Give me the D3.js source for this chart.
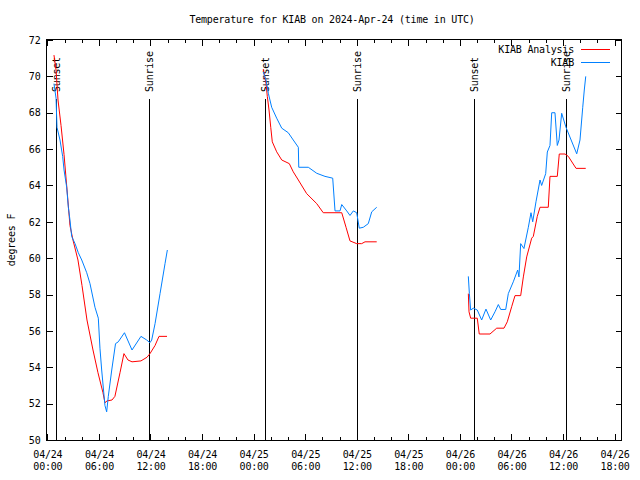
<!DOCTYPE html>
<html>
<head>
<meta charset="utf-8">
<script src="https://cdn.jsdelivr.net/npm/d3@7"></script>
<style>
  html, body { margin: 0; padding: 0; background: #fff; }
  svg { display: block; }
  text { font-family: "DejaVu Sans Mono", "Liberation Mono", monospace; font-size: 10px; letter-spacing: -0.2px; fill: #000; }
</style>
</head>
<body>
<svg id="chart" width="640" height="480"></svg>
<script>
// ---- data (hours after 2024-04-24 00:00 UTC; null = gap) ----
const analysisHours = [
  0.77, 1.01, 1.24, 1.59, 1.94, 2.29, 2.63, 2.98, 3.56, 4.03, 4.61, 5.31, 5.89, 6.47, 6.70, 6.94, 7.52, 7.86, 8.45, 8.91, 9.38, 9.85, 10.89, 11.59, 11.94, 12.53, 12.99, 13.92,
  null,
  25.12, 25.44, 25.59, 25.79, 25.99, 26.17, 26.68, 27.27, 28.15, 28.61, 29.20, 30.17, 31.34, 32.10, 34.25, 34.75, 35.21, 35.99, 36.57, 36.96, 38.32,
  null,
  48.98, 49.06, 49.25, 50.02, 50.25, 51.50, 52.28, 53.13, 53.51, 54.02, 54.41, 55.07, 55.38, 55.77, 56.35, 56.54, 57.00, 57.32, 58.28, 58.48, 59.33, 59.56, 60.23, 60.61, 61.51, 62.64
];
const analysisTemps = [
  71.17, 70.35, 68.7, 67.3, 65.7, 63.75, 61.8, 61.0, 59.9, 58.5, 56.6, 54.95, 53.7, 52.6, 52.05, 52.15, 52.2, 52.4, 53.7, 54.75, 54.4, 54.3, 54.35, 54.55, 54.75, 55.2, 55.7, 55.7,
  null,
  70.4, 69.6, 68.9, 68.15, 67.2, 66.4, 65.85, 65.4, 65.2, 64.75, 64.3, 63.55, 63.0, 62.5, 62.5, 61.7, 60.95, 60.8, 60.8, 60.9, 60.9,
  null,
  58.05, 57.05, 56.7, 56.7, 55.83, 55.83, 56.15, 56.15, 56.5, 57.33, 57.94, 57.94, 58.97, 60.07, 61.1, 61.2, 62.3, 62.8, 62.8, 64.5, 64.5, 65.73, 65.73, 65.6, 64.94, 64.94
];
const obsHours = [
  0.77, 1.01, 1.12, 1.47, 1.78, 1.94, 2.25, 2.44, 2.63, 2.83, 3.22, 3.60, 4.00, 4.58, 4.96, 5.54, 5.93, 6.12, 6.32, 6.70, 6.90, 7.09, 7.49, 7.93, 8.25, 8.97, 9.85, 10.89, 11.56, 11.94, 12.14, 12.53, 13.11, 13.69, 13.96,
  null,
  25.12, 25.44, 25.71, 26.10, 26.68, 27.27, 28.03, 28.61, 29.20, 29.25, 30.36, 31.34, 32.30, 33.20, 33.47, 34.05, 34.25, 34.83, 35.21, 35.60, 35.99, 36.29, 36.76, 37.34, 37.74, 38.32,
  null,
  48.98, 49.10, 49.25, 49.56, 50.02, 50.53, 51.03, 51.58, 52.08, 52.47, 52.75, 53.33, 53.63, 54.21, 54.72, 54.87, 55.07, 55.45, 55.96, 56.27, 56.47, 56.85, 57.32, 57.51, 57.98, 58.17, 58.48, 58.68, 59.06, 59.33, 59.53, 59.84, 60.34, 61.59, 61.97, 62.29, 62.47, 62.64
];
const obsTemps = [
  69.6, 68.8, 67.2, 66.5, 65.6, 64.85, 63.9, 62.8, 62.1, 61.2, 60.8, 60.3, 59.9, 59.2, 58.6, 57.3, 56.7, 55.05, 53.85, 51.9, 51.55, 52.4, 53.85, 55.3, 55.4, 55.9, 54.95, 55.7, 55.5, 55.35, 55.5, 56.4, 58.05, 59.7, 60.45,
  null,
  70.25, 69.8, 69.07, 68.3, 67.7, 67.15, 66.9, 66.5, 66.1, 65.0, 65.0, 64.67, 64.5, 64.4, 62.6, 62.6, 62.95, 62.6, 62.35, 62.6, 62.5, 61.65, 61.7, 61.9, 62.55, 62.8,
  null,
  59.0, 58.05, 57.15, 57.25, 57.15, 56.6, 57.2, 56.6, 57.05, 57.45, 57.18, 57.18, 58.05, 58.7, 59.35, 58.97, 60.8, 60.53, 61.7, 62.5, 62.0, 63.1, 64.3, 64.0, 64.65, 65.84, 66.2, 68.0, 68.0, 66.2, 66.5, 67.97, 67.2, 65.74, 66.5, 68.3, 69.25, 70.0
];
const sunsetHours  = [1.0, 25.36, 49.67];
const sunriseHours = [11.77, 36.06, 60.38];
const xMajorTickHours = [0, 6, 12, 18, 24, 30, 36, 42, 48, 54, 60, 66];
const xMinorTickHours = d3.range(0, 67, 2);
const yTicks = [50, 52, 54, 56, 58, 60, 62, 64, 66, 68, 70, 72];
const seriesNames = ["KIAB Analysis", "KIAB"];
const seriesColors = ["#ff0000", "#0080ff"];
const titleText = "Temperature for KIAB on 2024-Apr-24 (time in UTC)";
const yLabelText = "degrees F";

// ---- helpers ----
const t0 = Date.UTC(2024, 3, 24, 0, 0);
const toDate = h => new Date(t0 + h * 3600000);

const svg = d3.select("#chart");
const L = 46.5, R = 621.5, T = 40, B = 440;

const x = d3.scaleUtc()
  .domain([toDate(-0.1), toDate(66.8)])
  .range([L, R]);
const y = d3.scaleLinear().domain([50, 72]).range([B, T]);

// title
svg.append("text").attr("x", 332).attr("y", 23).attr("text-anchor", "middle").text(titleText);

// y label
svg.append("text")
  .attr("transform", "translate(12,240) rotate(-90)")
  .attr("text-anchor", "middle").attr("dominant-baseline", "middle")
  .text(yLabelText);

// axes
const gl = svg.append("g").attr("transform", `translate(${L},0)`)
  .call(d3.axisLeft(y).tickValues(yTicks).tickSizeInner(-6).tickSizeOuter(0).tickPadding(6).tickFormat(d3.format("d")));
const gr = svg.append("g").attr("transform", `translate(${R},0)`)
  .call(d3.axisRight(y).tickValues(yTicks).tickSizeInner(-6).tickSizeOuter(0).tickFormat(""));
const gbMinor = svg.append("g").attr("transform", `translate(0,${B})`)
  .call(d3.axisBottom(x).tickValues(xMinorTickHours.map(toDate)).tickSizeInner(-3).tickSizeOuter(0).tickFormat(""));
const gtMinor = svg.append("g").attr("transform", `translate(0,${T})`)
  .call(d3.axisTop(x).tickValues(xMinorTickHours.map(toDate)).tickSizeInner(-3).tickSizeOuter(0).tickFormat(""));
const gtMajor = svg.append("g").attr("transform", `translate(0,${T})`)
  .call(d3.axisTop(x).tickValues(xMajorTickHours.map(toDate)).tickSizeInner(-6).tickSizeOuter(0).tickFormat(""));
const gbMajor = svg.append("g").attr("transform", `translate(0,${B})`)
  .call(d3.axisBottom(x).tickValues(xMajorTickHours.map(toDate)).tickSizeInner(-6).tickSizeOuter(0).tickPadding(10)
    .tickFormat(d3.utcFormat("%m/%d")));
const fmtTime = d3.utcFormat("%H:%M");
gbMajor.selectAll(".tick text").each(function(d) {
  const t = d3.select(this);
  const first = t.text();
  t.text(null).attr("dy", null).attr("y", 18);
  t.append("tspan").attr("x", 0).attr("dy", 0).text(first);
  t.append("tspan").attr("x", 0).attr("dy", 12).text(fmtTime(d));
});
svg.selectAll(".domain").remove();
svg.selectAll(".tick line").attr("stroke", "#000").attr("shape-rendering", "crispEdges");
svg.selectAll(".tick text").attr("font-family", null).attr("font-size", null).attr("fill", "#000");
gl.attr("font-family", null).attr("font-size", null);
gbMajor.attr("font-family", null).attr("font-size", null);

// frame
svg.append("rect").attr("x", L).attr("y", T - 0.5).attr("width", R - L).attr("height", B - T + 1)
  .attr("fill", "none").attr("stroke", "#000").attr("shape-rendering", "crispEdges");

// sun lines
const sunTop = 68.75;
const sunEvents = sunsetHours.map(h => ({h, label: "Sunset"}))
  .concat(sunriseHours.map(h => ({h, label: "Sunrise"})));
const sg = svg.append("g");
sunEvents.forEach(e => {
  const xx = Math.round(x(toDate(e.h))) + 0.5;
  sg.append("line").attr("x1", xx).attr("x2", xx).attr("y1", y(sunTop)).attr("y2", B)
    .attr("stroke", "#000").attr("shape-rendering", "crispEdges");
  sg.append("text")
    .attr("transform", `translate(${xx},92) rotate(-90)`)
    .attr("text-anchor", "start").attr("dominant-baseline", "middle")
    .text(e.label);
});

// series lines
const line = d3.line()
  .defined((d) => d.v !== null)
  .x(d => x(toDate(d.h)))
  .y(d => y(d.v));
const analysisData = analysisHours.map((h, i) => ({h, v: analysisTemps[i]}));
const obsData = obsHours.map((h, i) => ({h, v: obsTemps[i]}));
[analysisData, obsData].forEach((data, i) => {
  svg.append("path").datum(data).attr("d", line)
    .attr("fill", "none").attr("stroke", seriesColors[i]).attr("stroke-width", 1);
});

// legend
seriesNames.forEach((name, i) => {
  const ly = 49.5 + i * 13;
  svg.append("text").attr("x", 574).attr("y", ly).attr("text-anchor", "end")
    .attr("dominant-baseline", "middle").text(name);
  svg.append("line").attr("x1", 581).attr("x2", 610).attr("y1", ly).attr("y2", ly)
    .attr("stroke", seriesColors[i]).attr("shape-rendering", "crispEdges");
});
</script>
</body>
</html>
